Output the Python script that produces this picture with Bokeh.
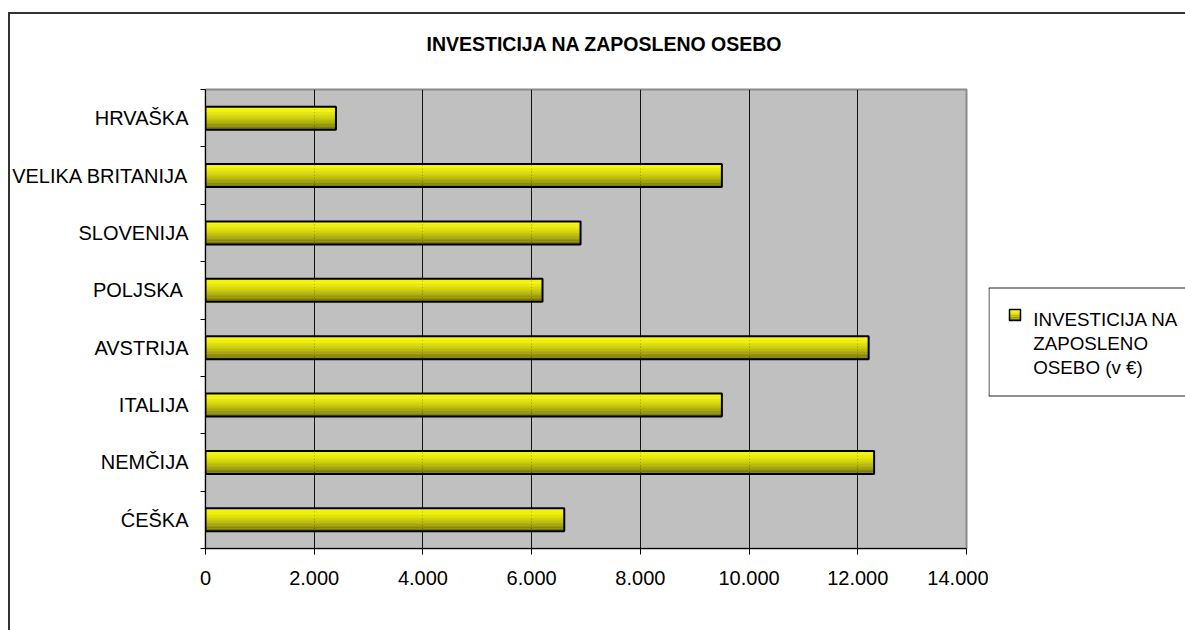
from bokeh.plotting import figure
from bokeh.layouts import row
from bokeh.models import Range1d, FixedTicker
from bokeh.core.properties import value
from bokeh.embed import file_html
from bokeh.resources import INLINE

# ---- data (bottom to top) ----
categories = ["ĆEŠKA", "NEMČIJA", "ITALIJA", "AVSTRIJA", "POLJSKA ",
              "SLOVENIJA", "VELIKA BRITANIJA", "HRVAŠKA"]
values = [6600, 12300, 9500, 12200, 6200, 6900, 9500, 2400]
x_ticks = [0, 2000, 4000, 6000, 8000, 10000, 12000, 14000]
x_tick_labels = ["0", "2.000", "4.000", "6.000", "8.000", "10.000", "12.000", "14.000"]
title_text = "INVESTICIJA NA ZAPOSLENO OSEBO"
legend_lines = ["INVESTICIJA NA", "ZAPOSLENO", "OSEBO (v €)"]

FONT = "Liberation Sans"
PAGE_W, PAGE_H = 1185, 630
FL, FR, FT, FB = 205, 966, 89, 548      # plot frame edges (page px)
LEG_X, LEG_T, LEG_B = 988, 287, 396     # legend box edges (page px)
BORDER = "#333333"

# ================= main chart =================
p = figure(width=LEG_X, height=PAGE_H, output_backend="svg", toolbar_location=None,
           x_range=Range1d(0, x_ticks[-1]), y_range=Range1d(0, len(categories)),
           min_border_left=FL, min_border_right=LEG_X - FR,
           min_border_top=FT, min_border_bottom=PAGE_H - FB)
p.styles = {"background-image": f"linear-gradient({BORDER},{BORDER}), linear-gradient({BORDER},{BORDER})",
            "background-size": "2px 100%, 100% 2px",
            "background-position": "8px 12px, 8px 12px",
            "background-repeat": "no-repeat"}
p.background_fill_color = "#c0c0c0"
p.border_fill_alpha = 0
p.outline_line_color = "#8a8a8a"
p.outline_line_width = 2

# bars with a vertical yellow -> olive gradient
yc = [i + 0.5 for i in range(len(categories))]
bar_h = 0.40
n_strips = 16
top_rgb = (255, 255, 0)
bot_rgb = (105, 105, 0)


def grad(t):
    return "#%02x%02x%02x" % tuple(int(a + (b - a) * t) for a, b in zip(top_rgb, bot_rgb))


for k in range(n_strips):
    t = ((k + 0.5) / n_strips) ** 1.6
    off = bar_h / 2 - (k + 0.5) * bar_h / n_strips
    p.hbar(y=[y + off for y in yc], left=0, right=values,
           height=bar_h / n_strips * 1.05, fill_color=grad(t), line_color=None)
p.hbar(y=yc, left=0, right=values, height=bar_h, fill_color=None,
       line_color="black", line_width=2)

# axes
xa = p.xaxis[0]
xa.ticker = FixedTicker(ticks=x_ticks)
xa.major_label_overrides = {t: l for t, l in zip(x_ticks, x_tick_labels)}
xa.major_tick_out = 6
xa.major_tick_in = 0
xa.minor_tick_line_color = None
xa.axis_line_color = "black"
xa.major_tick_line_color = "black"
xa.major_label_text_font = FONT
xa.major_label_text_font_size = "20px"
xa.major_label_text_color = "black"
xa.major_label_standoff = 16

ya = p.yaxis[0]
ya.ticker = FixedTicker(ticks=yc, minor_ticks=list(range(len(categories) + 1)))
ya.major_label_overrides = {y: c for y, c in zip(yc, categories)}
ya.major_tick_line_color = None
ya.major_tick_out = 0
ya.major_tick_in = 0
ya.minor_tick_out = 5
ya.minor_tick_in = 0
ya.minor_tick_line_color = "black"
ya.axis_line_color = "black"
ya.major_label_text_font = FONT
ya.major_label_text_font_size = "20px"
ya.major_label_text_color = "black"
ya.major_label_standoff = 12

p.xgrid.ticker = FixedTicker(ticks=x_ticks[1:-1])
p.xgrid.grid_line_color = "#111111"
p.xgrid.grid_line_width = 1
p.ygrid.grid_line_color = None

# title
p.title.text = title_text
p.title.align = "left"
p.title.offset = 221
p.title.vertical_align = "top"
p.title.standoff = 65
p.title.text_font = FONT
p.title.text_font_style = "bold"
p.title.text_font_size = "19.5px"
p.title.text_color = "black"

# ================= legend panel (same vertical frame as the chart) =================
LW = PAGE_W - LEG_X
lg = figure(width=LW, height=PAGE_H, output_backend="svg", toolbar_location=None,
            x_range=Range1d(0, LW), y_range=Range1d(0, FB - FT),
            min_border_left=0, min_border_right=0,
            min_border_top=FT, min_border_bottom=PAGE_H - FB)
lg.styles = {"background-image": f"linear-gradient({BORDER},{BORDER})",
             "background-size": "100% 2px",
             "background-position": "0px 12px",
             "background-repeat": "no-repeat"}
lg.xaxis.visible = False
lg.yaxis.visible = False
lg.grid.visible = False
lg.outline_line_color = None
lg.background_fill_alpha = 0
lg.border_fill_alpha = 0


def ly(page_y):
    # page pixel row -> legend panel data y (measured up from frame bottom)
    return FB - page_y


box_t, box_b = ly(LEG_T) - 0.5, ly(LEG_B) + 0.5
lg.quad(left=0, right=LW, top=box_t, bottom=box_b, fill_color="white", line_color=None)
# box edges (top, left, bottom); right side runs past the page edge
lg.multi_line(xs=[[0, LW], [0.5, 0.5], [0, LW]], ys=[[box_t, box_t], [box_b, box_t], [box_b, box_b]],
              line_color="#222222", line_width=1)

# legend key: small square with the same gradient
sq_l, sq_r, sq_t, sq_b = 21, 32, ly(309), ly(320)
n_sq = 6
for k in range(n_sq):
    t = ((k + 0.5) / n_sq) ** 1.6
    lg.quad(left=sq_l, right=sq_r, top=sq_t - k * (sq_t - sq_b) / n_sq,
            bottom=sq_t - (k + 1) * (sq_t - sq_b) / n_sq,
            fill_color=grad(t), line_color=None)
lg.quad(left=sq_l, right=sq_r, top=sq_t, bottom=sq_b, fill_color=None,
        line_color="black", line_width=1.5)

lg.text(x=[44.7] * len(legend_lines), y=[ly(319.3), ly(343.3), ly(367.0)], text=legend_lines,
        text_font=value(FONT), text_font_size=value("18.8px"),
        text_color="black", text_baseline="alphabetic", text_align="left")

layout = row(p, lg, spacing=0)
open("out.html", "w").write(file_html(layout, INLINE))
